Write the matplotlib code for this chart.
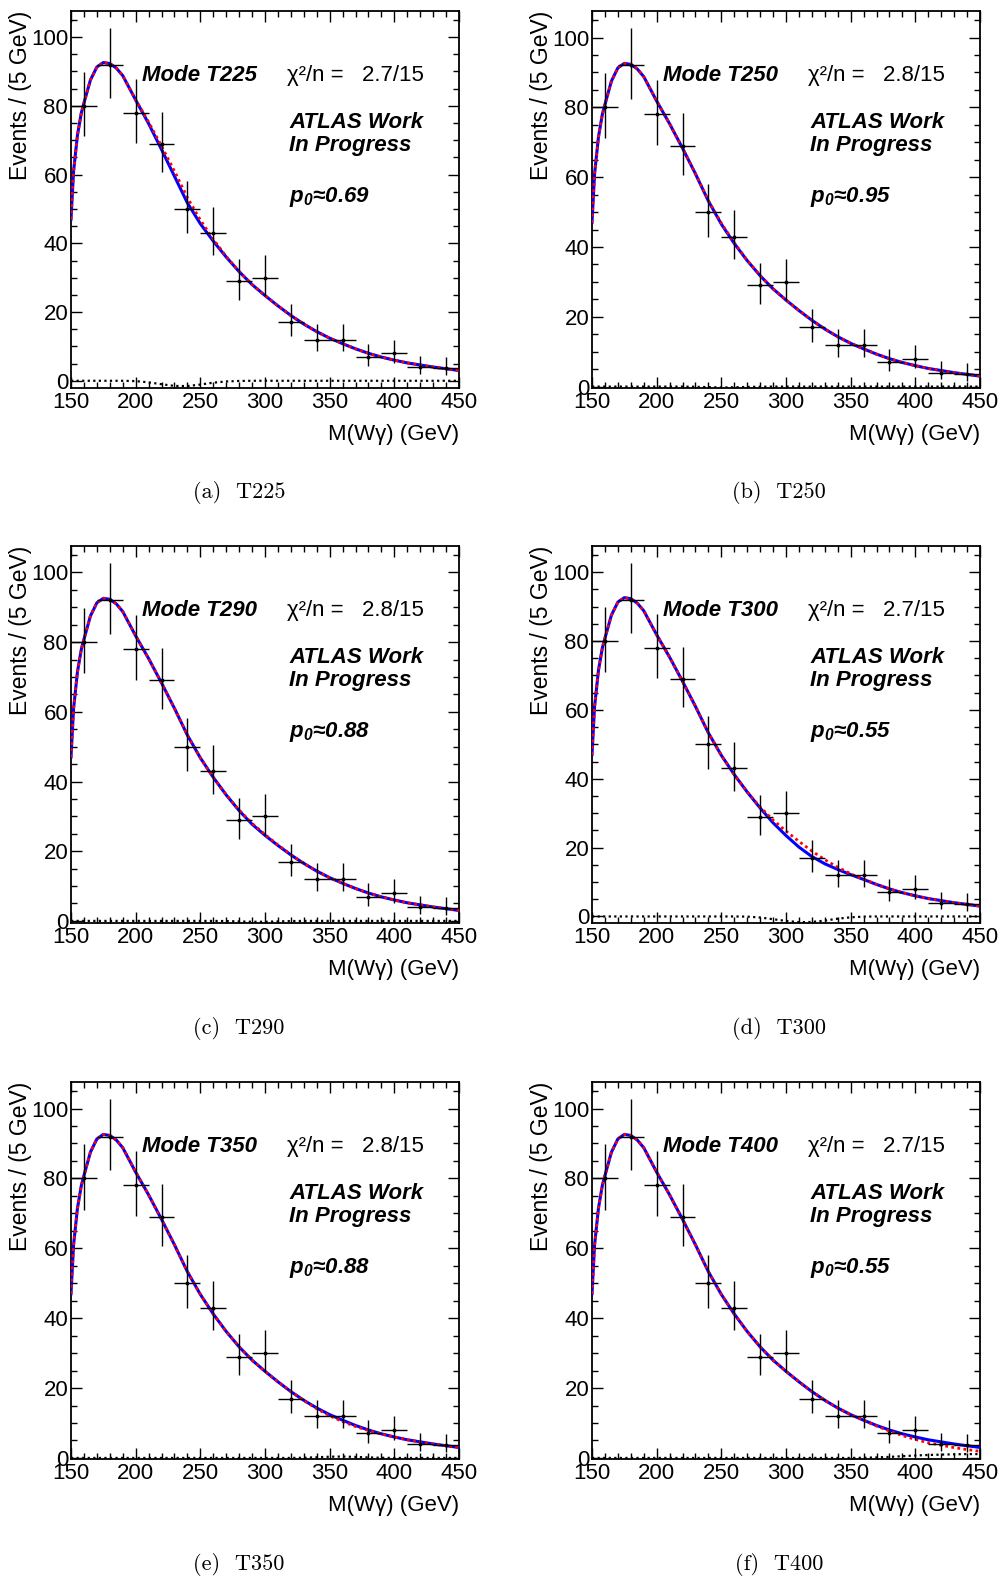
import matplotlib
matplotlib.use("Agg")
import matplotlib.pyplot as plt
import numpy as np

plt.rcParams['font.family'] = ['Liberation Sans', 'DejaVu Sans']
plt.rcParams['mathtext.fontset'] = 'custom'
plt.rcParams['mathtext.rm'] = 'Liberation Sans'
plt.rcParams['mathtext.it'] = 'Liberation Sans:italic'
plt.rcParams['mathtext.bf'] = 'Liberation Sans:bold:italic'

# data points (same in every panel)
mass = [160, 180, 200, 220, 240, 260, 280, 300, 320, 340, 360, 380, 400, 420, 440]
events = [80, 92, 78, 69, 50, 43, 29, 30, 17, 12, 12, 7, 8, 4, 3.6]
err_lo = [8.9, 9.6, 8.8, 8.3, 7.1, 6.5, 5.4, 5.4, 4.1, 3.4, 3.4, 2.6, 2.8, 1.9, 1.9]
err_hi = [9.9, 10.6, 9.9, 9.3, 8.1, 7.6, 6.4, 6.5, 5.2, 4.5, 4.5, 3.8, 4.0, 3.2, 3.2]

# fitted curves
xs = [150, 152, 155, 158, 160, 165, 170, 175, 180, 185, 190, 200, 210, 220, 230, 240,
      250, 260, 270, 280, 290, 300, 310, 320, 330, 340, 350, 360, 370, 380, 390, 400,
      410, 420, 430, 440, 450]
base = [47.0, 61.0, 71.5, 78.0, 80.8, 87.5, 91.3, 92.6, 92.3, 91.0, 88.8, 81.8, 75.3, 68.3, 61.0, 53.3,
        46.8, 41.2, 36.2, 31.8, 28.0, 24.8, 21.8, 19.0, 16.5, 14.3, 12.4, 10.8, 9.3, 8.0, 6.9, 6.0,
        5.2, 4.6, 4.0, 3.5, 3.0]

# signal component on the same grid
sig_a = [0, 0, 0, 0, 0, 0, 0, 0, 0, 0, 0, -0.1, -0.45, -1.0, -1.5, -1.55, -1.1, -0.55, -0.2, -0.05, 0, 0, 0, 0, 0, 0, 0, 0, 0, 0, 0, 0, 0, 0, 0, 0, 0]
sig_b = [0, 0, 0, 0, 0, 0, 0, 0, 0, 0, 0, 0, 0, 0, -0.05, -0.15, -0.25, -0.2, -0.1, -0.03, 0, 0, 0, 0, 0, 0, 0, 0, 0, 0, 0, 0, 0, 0, 0, 0, 0]
sig_c = [0, 0, 0, 0, 0, 0, 0, 0, 0, 0, 0, 0, 0, 0, 0, 0, 0, 0, -0.05, -0.15, -0.25, -0.25, -0.15, -0.05, 0, 0, 0, 0, 0, 0, 0, 0, 0, 0, 0, 0, 0]
sig_d = [0, 0, 0, 0, 0, 0, 0, 0, 0, 0, 0, 0, 0, 0, 0, 0, 0, 0, -0.05, -0.3, -0.8, -1.3, -1.65, -1.6, -1.2, -0.65, -0.25, -0.05, 0, 0, 0, 0, 0, 0, 0, 0, 0]
sig_e = [0, 0, 0, 0, 0, 0, 0, 0, 0, 0, 0, 0, 0, 0, 0, 0, 0, 0, 0, 0, 0, 0, 0, 0, 0.05, 0.2, 0.35, 0.4, 0.3, 0.15, 0.05, 0, 0, 0, 0, 0, 0]
sig_f = [0, 0, 0, 0, 0, 0, 0, 0, 0, 0, 0, 0, 0, 0, 0, 0, 0, 0, 0, 0, 0, 0, 0, 0, 0, 0, 0, 0.05, 0.15, 0.3, 0.5, 0.7, 0.85, 0.95, 1.05, 1.1, 1.1]

modes = ['T225', 'T250', 'T290', 'T300', 'T350', 'T400']
chi2 = ['2.7/15', '2.8/15', '2.8/15', '2.7/15', '2.8/15', '2.7/15']
p0 = ['0.69', '0.95', '0.88', '0.55', '0.88', '0.55']
signals = [sig_a, sig_b, sig_c, sig_d, sig_e, sig_f]
sig_added = [True, True, True, True, False, False]   # blue = red + sig, else red = blue - sig
ymins = [-2.1, -0.4, -0.6, -1.9, -0.3, -0.3]
letters = ['a', 'b', 'c', 'd', 'e', 'f']

W, H = 1004, 1578
fig = plt.figure(figsize=(W / 100, H / 100), dpi=100)

lefts = [71, 592]
tops = [11, 546, 1082]
aw, ah = 388, 377
cap_x = [239, 779]
cap_y = [493, 1028.5, 1564]

x = np.array(xs)
b = np.array(base)
for i in range(6):
    r, c = i // 2, i % 2
    ax = fig.add_axes([lefts[c] / W, 1 - (tops[r] + ah) / H, aw / W, ah / H])
    s = np.array(signals[i])
    if sig_added[i]:
        bkg, tot = b, b + s
    else:
        bkg, tot = b - s, b

    ax.plot(x, s, ls=(0, (1, 1.5)), color='k', lw=1.6, zorder=2)
    ax.plot(x, tot, color='#0000ff', lw=2.2, zorder=3)
    ax.plot(x, bkg, ls=(0, (1, 1.2)), color='#ff0000', lw=2.0, zorder=4)
    ax.errorbar(mass, events, xerr=10, yerr=[err_lo, err_hi], fmt='o', ms=1.8,
                color='k', ecolor='k', elinewidth=1.0, capsize=0, zorder=5)

    ax.set_xlim(150, 450)
    ax.set_ylim(ymins[i], 107.6)
    ax.set_xticks(np.arange(150, 451, 50))
    ax.set_xticks(np.arange(150, 451, 10), minor=True)
    ax.set_yticks(np.arange(0, 101, 20))
    ax.set_yticks(np.arange(0, 106, 5), minor=True)
    ax.tick_params(which='both', direction='in', top=True, right=True, width=1.0, labelsize=16)
    ax.tick_params(which='major', length=8)
    ax.tick_params(which='minor', length=4)
    ax.tick_params(axis='x', pad=3)
    ax.tick_params(axis='y', pad=2)
    for sp in ax.spines.values():
        sp.set_linewidth(1.3)

    ax.set_xlabel('M(Wγ) (GeV)', fontsize=16, loc='right')
    ax.xaxis.set_label_coords(1.0, -0.095)
    ax.set_ylabel('Events / (5 GeV)', fontsize=16.5, loc='top')
    ax.yaxis.set_label_coords(-0.10, 1.0)

    ax.text(0.183, 0.830, 'Mode ' + modes[i], transform=ax.transAxes, fontsize=16,
            fontweight='bold', fontstyle='italic', va='center')
    ax.text(0.557, 0.830, 'χ²/n =   ' + chi2[i], transform=ax.transAxes, fontsize=16, va='center')
    ax.text(0.562, 0.703, 'ATLAS Work', transform=ax.transAxes, fontsize=16,
            fontweight='bold', fontstyle='italic', va='center')
    ax.text(0.562, 0.642, 'In Progress', transform=ax.transAxes, fontsize=16,
            fontweight='bold', fontstyle='italic', va='center')
    ax.text(0.562, 0.507, r'$\mathbf{p_0}$≈' + p0[i], transform=ax.transAxes, fontsize=16,
            fontweight='bold', fontstyle='italic', va='center')

    fig.text(cap_x[c] / W, 1 - cap_y[r] / H, '(%s)  %s' % (letters[i], modes[i]),
             fontfamily='cmr10', fontsize=16, ha='center', va='center')

fig.savefig('out.png', dpi=100)
